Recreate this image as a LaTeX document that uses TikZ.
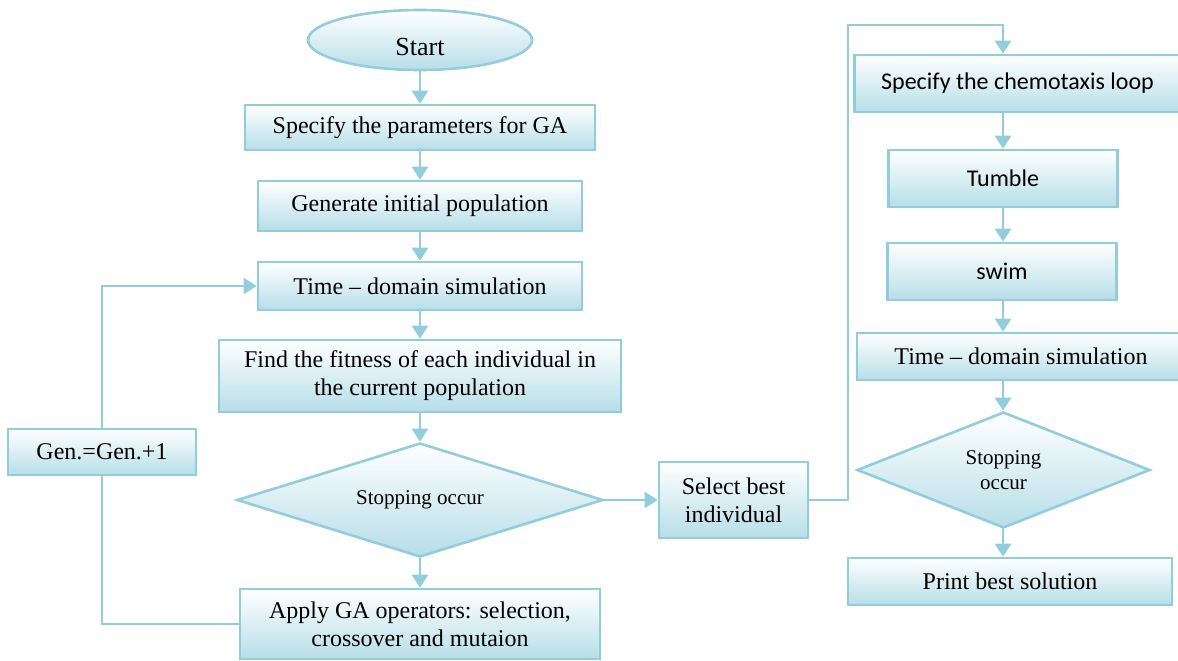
\documentclass[tikz,border=0pt]{standalone}
\usepackage{fontspec}
\setmainfont{Liberation Serif}
\newfontfamily\calib{Carlito}
\usetikzlibrary{shapes.geometric,arrows.meta}
\definecolor{lb}{RGB}{146,205,220}
\definecolor{fb}{RGB}{183,222,232}
\tikzset{
  box/.style={draw=lb, line width=1.3pt, top color=white, bottom color=fb, align=center, font=\fontsize{12}{14}\selectfont, inner sep=2pt},
  cbox/.style={box, font=\calib\fontsize{12}{14}\selectfont},
  dia/.style={box, diamond, inner sep=0pt, font=\fontsize{10.5}{12.5}\selectfont},
  conn/.style={draw=lb, line width=1.3pt},
  arr/.style={conn, -{Triangle[width=8pt,length=6.5pt]}}
}
\begin{document}
\begin{tikzpicture}[x=0.5pt,y=-0.5pt]
\useasboundingbox (0,0) rectangle (1178,660);
% left column
\node[box, ellipse, minimum width=112pt, minimum height=30pt, inner sep=0pt, text height=15pt, text depth=0pt, font=\fontsize{13}{15}\selectfont] (start) at (420,40) {Start};
\node[box, minimum width=175pt, minimum height=22.5pt] (param) at (420,127.5) {Specify the parameters for GA};
\node[box, minimum width=162pt, minimum height=25pt] (gen0) at (420,206) {Generate initial population};
\node[box, minimum width=162pt, minimum height=24pt] (time1) at (420,286) {Time -- domain simulation};
\node[box, minimum width=201pt, minimum height=36pt] (fit) at (420,376) {Find the fitness of each individual in\\the current population};
\node[dia, minimum width=183pt, minimum height=57pt, aspect=3.2] (stop1) at (420,500) {Stopping occur};
\node[box, minimum width=180pt, minimum height=35pt] (apply) at (420,624) {Apply GA operators: selection,\\crossover and mutaion};
\node[box, minimum width=94pt, minimum height=23pt] (genp) at (102,452) {Gen.=Gen.+1};
\node[box, minimum width=74.5pt, minimum height=38pt] (sel) at (733.5,500) {Select best\\individual};
% right column
\node[cbox, minimum width=167.5pt, minimum height=28.5pt] (chemo) at (1022,83.5) {\hspace*{-4.5pt}Specify the chemotaxis loop};
\node[cbox, minimum width=114.5pt, minimum height=28.5pt] (tumble) at (1003,178.5) {Tumble};
\node[cbox, minimum width=114.5pt, minimum height=28.5pt] (swim) at (1002,271.5) {swim};
\node[box, minimum width=164pt, minimum height=23.5pt] (time2) at (1021,356.5) {Time -- domain simulation};
\node[dia, minimum width=146.5pt, minimum height=58pt, aspect=2.5] (stop2) at (1003.5,470) {Stopping\\occur};
\node[box, minimum width=162pt, minimum height=23.5pt] (print) at (1010,581.5) {Print best solution};
\coordinate (up) at (848,25);
% connectors
\draw[arr] (start) -- (param);
\draw[arr] (param) -- (gen0);
\draw[arr] (gen0) -- (time1);
\draw[arr] (time1) -- (fit);
\draw[arr] (fit) -- (stop1);
\draw[arr] (stop1) -- (apply);
\draw[conn] (apply.west) -| (genp.south);
\draw[arr] (genp.north) |- (time1.west);
\draw[arr] (stop1.east) -- (sel.west);
\draw[arr] (sel.east) -| (up) -| (tumble.north |- chemo.north);
\draw[arr] (tumble.north |- chemo.south) -- (tumble.north);
\draw[arr] (tumble.south) -- (tumble.south |- swim.north);
\draw[arr] (tumble.south |- swim.south) -- (tumble.south |- time2.north);
\draw[arr] (tumble.south |- time2.south) -- (tumble.south |- stop2.north);
\draw[arr] (tumble.south |- stop2.south) -- (tumble.south |- print.north);
\end{tikzpicture}
\end{document}
